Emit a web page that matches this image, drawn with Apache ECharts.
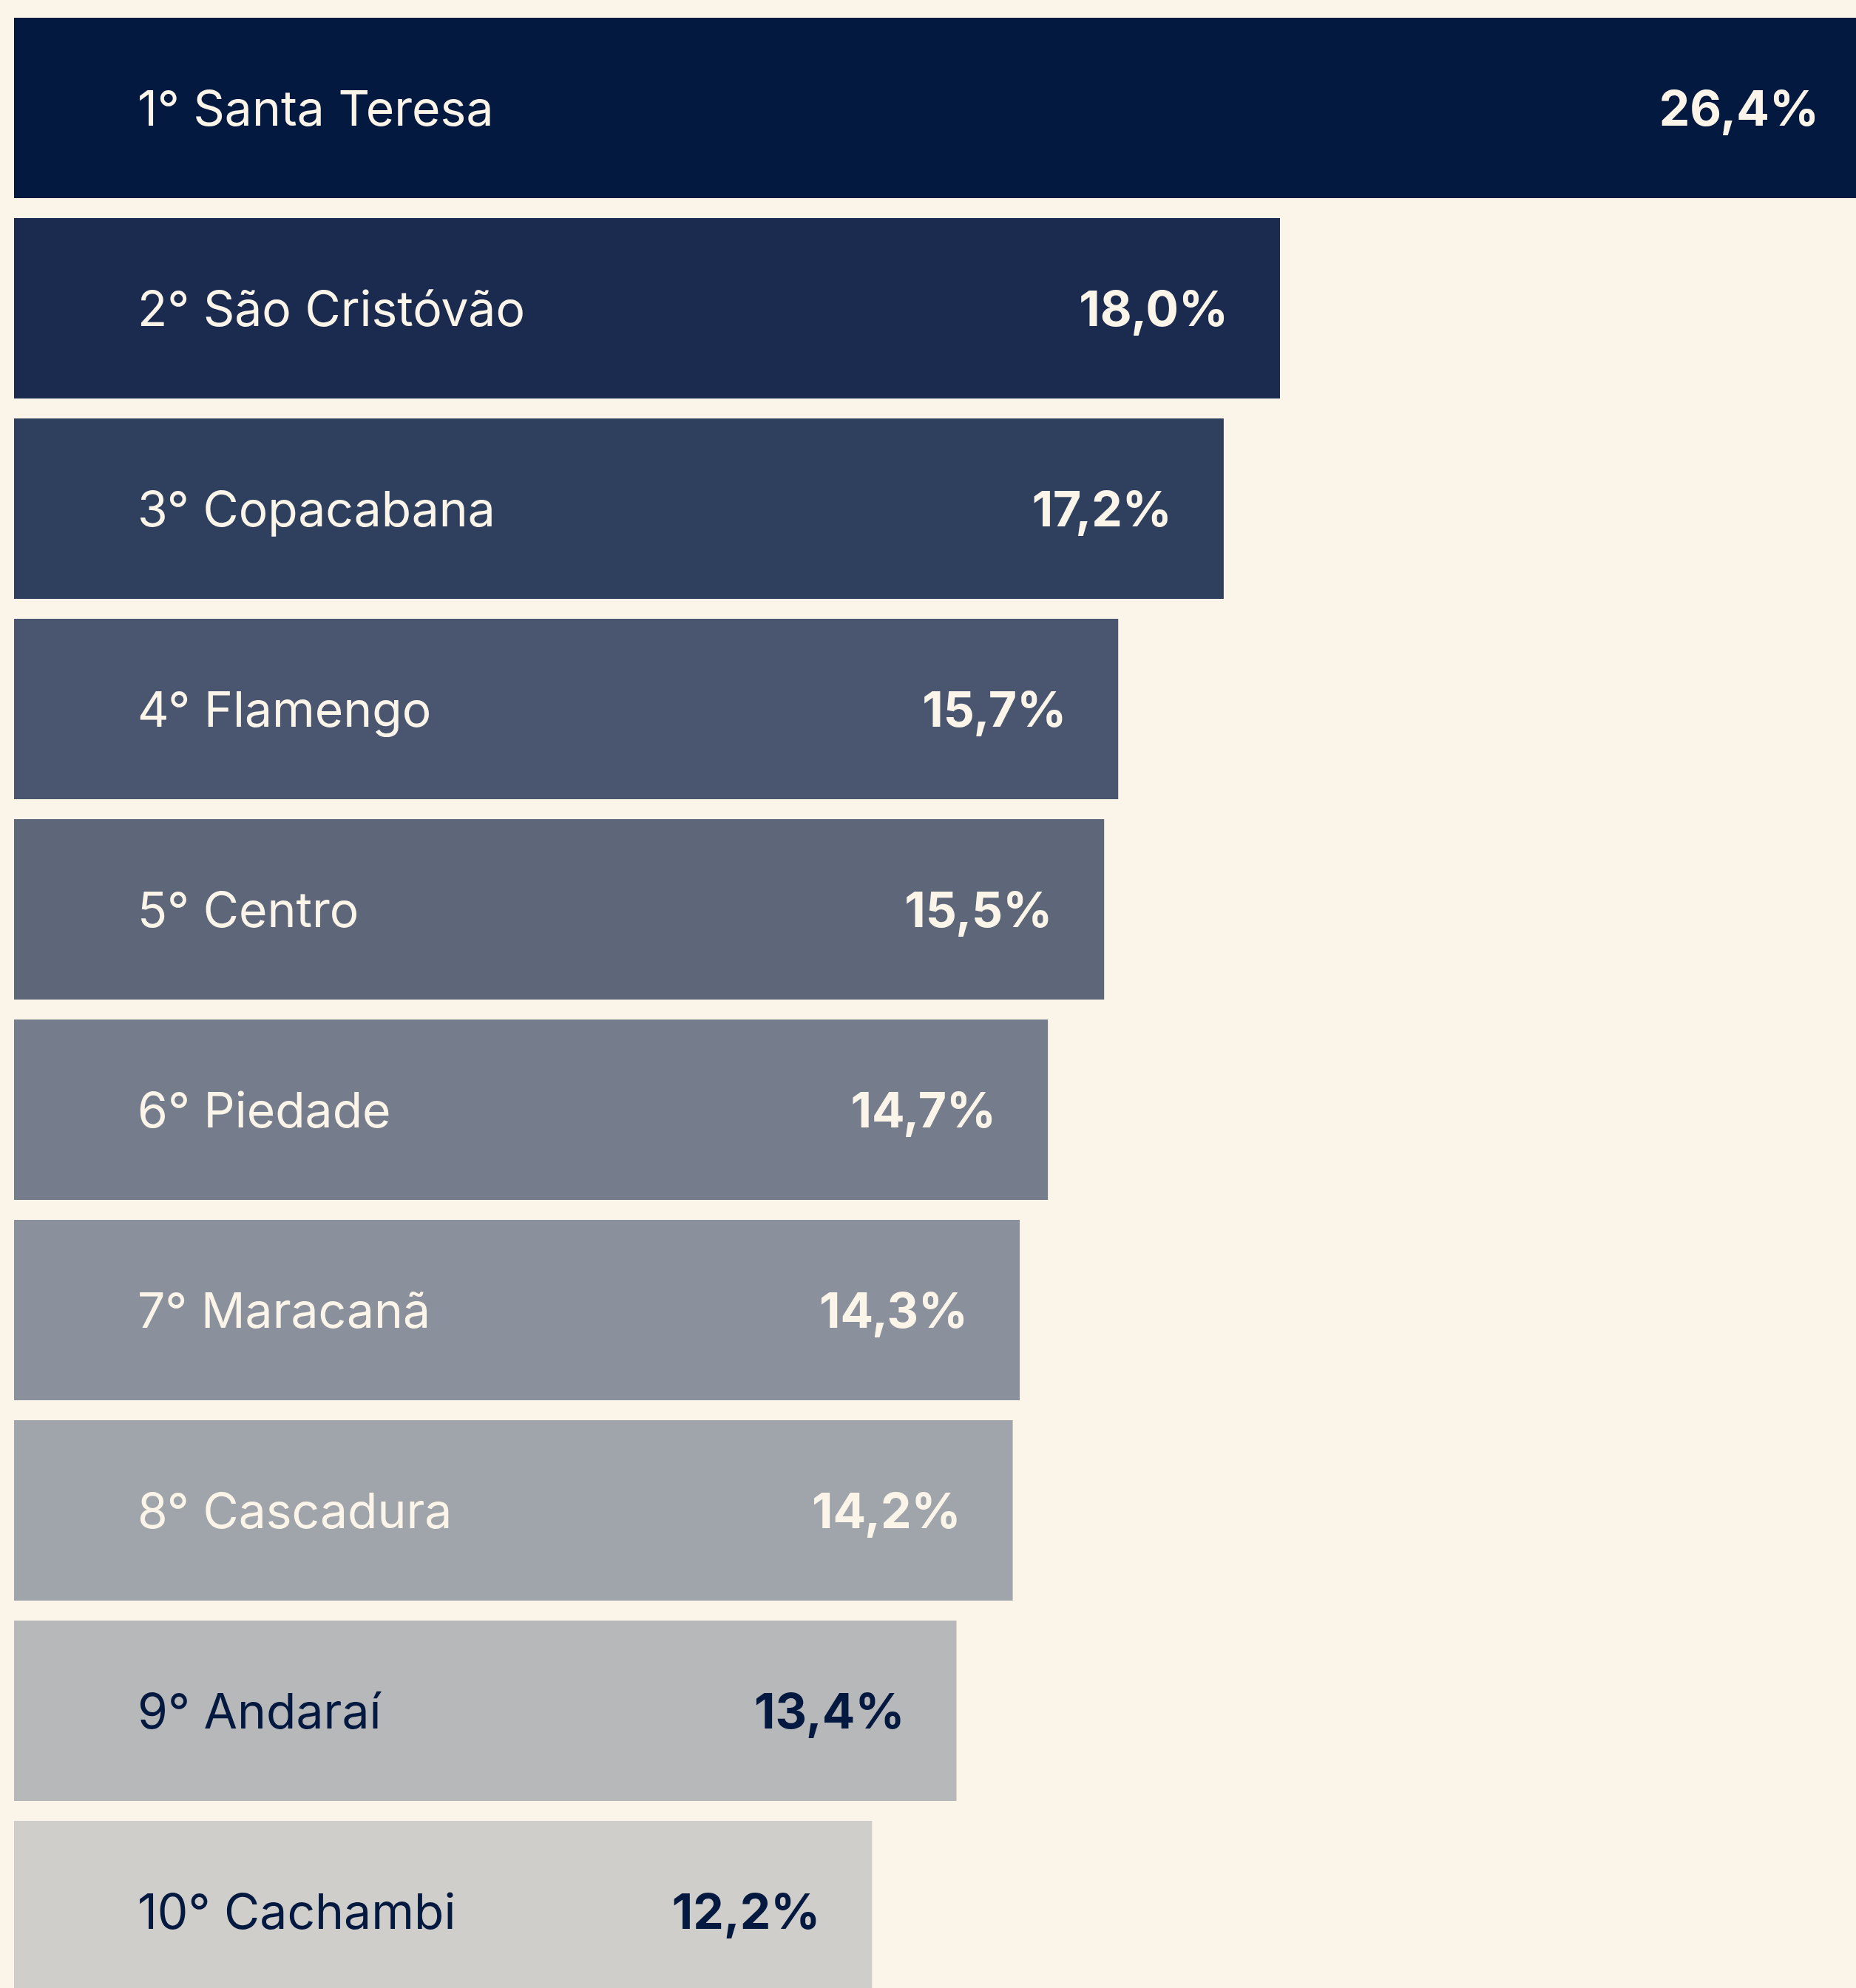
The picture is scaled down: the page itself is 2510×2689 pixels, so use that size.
<!DOCTYPE html>
<html>
<head>
<meta charset="utf-8">
<style>
  html, body { margin: 0; padding: 0; background: #fbf4e8; }
  #chart { width: 2510px; height: 2689px; }
</style>
<script src="https://cdn.jsdelivr.net/npm/echarts@6/dist/echarts.min.js"></script>
</head>
<body>
<div id="chart"></div>
<script>
// ranking dos bairros
const categories = ['1° Santa Teresa', '2° São Cristóvão', '3° Copacabana', '4° Flamengo', '5° Centro',
  '6° Piedade', '7° Maracanã', '8° Cascadura', '9° Andaraí', '10° Cachambi'];
const values = [26.4, 18.0, 17.2, 15.7, 15.5, 14.7, 14.3, 14.2, 13.4, 12.2];
const barColors = ['#031940', '#1b2b50', '#2f3f5e', '#4a5670', '#5d6779',
  '#757d8c', '#8b919c', '#a0a4ab', '#b7b8ba', '#cfceca'];
const textColors = ['#fbf4e8', '#fbf4e8', '#fbf4e8', '#fbf4e8', '#fbf4e8',
  '#fbf4e8', '#fbf4e8', '#fbf4e8', '#031940', '#031940'];

const chart = echarts.init(document.getElementById('chart'));

const fontFamily = 'Inter, "Noto Sans", sans-serif';

const option = {
  backgroundColor: '#fbf4e8',
  animation: false,
  grid: {
    left: 19,
    top: 10.5,
    width: 2587,
    height: 2710,
    outerBoundsMode: 'none',
    containLabel: false
  },
  xAxis: {
    type: 'value',
    min: 0,
    max: 27.2,
    show: false
  },
  yAxis: {
    type: 'category',
    data: categories,
    inverse: true,
    show: false
  },
  series: [{
    type: 'bar',
    barWidth: 244,
    data: values.map(function (v, i) {
      return {
        value: v,
        itemStyle: { color: barColors[i] },
        label: { color: textColors[i] }
      };
    }),
    label: {
      show: true,
      position: 'insideLeft',
      distance: 167,
      offset: [0, 4],
      fontFamily: fontFamily,
      fontSize: 66,
      fontWeight: 'normal',
      formatter: function (p) { return categories[p.dataIndex]; }
    }
  }, {
    type: 'bar',
    barWidth: 244,
    barGap: '-100%',
    itemStyle: { color: 'transparent' },
    data: values.map(function (v, i) {
      return { value: v, label: { color: textColors[i] } };
    }),
    label: {
      show: true,
      position: 'insideRight',
      distance: 70,
      offset: [0, 4],
      fontFamily: fontFamily,
      fontSize: 66,
      fontWeight: 'bold',
      formatter: function (p) { return p.value.toFixed(1).replace('.', ',') + '%'; }
    }
  }]
};

chart.setOption(option);
</script>
</body>
</html>
